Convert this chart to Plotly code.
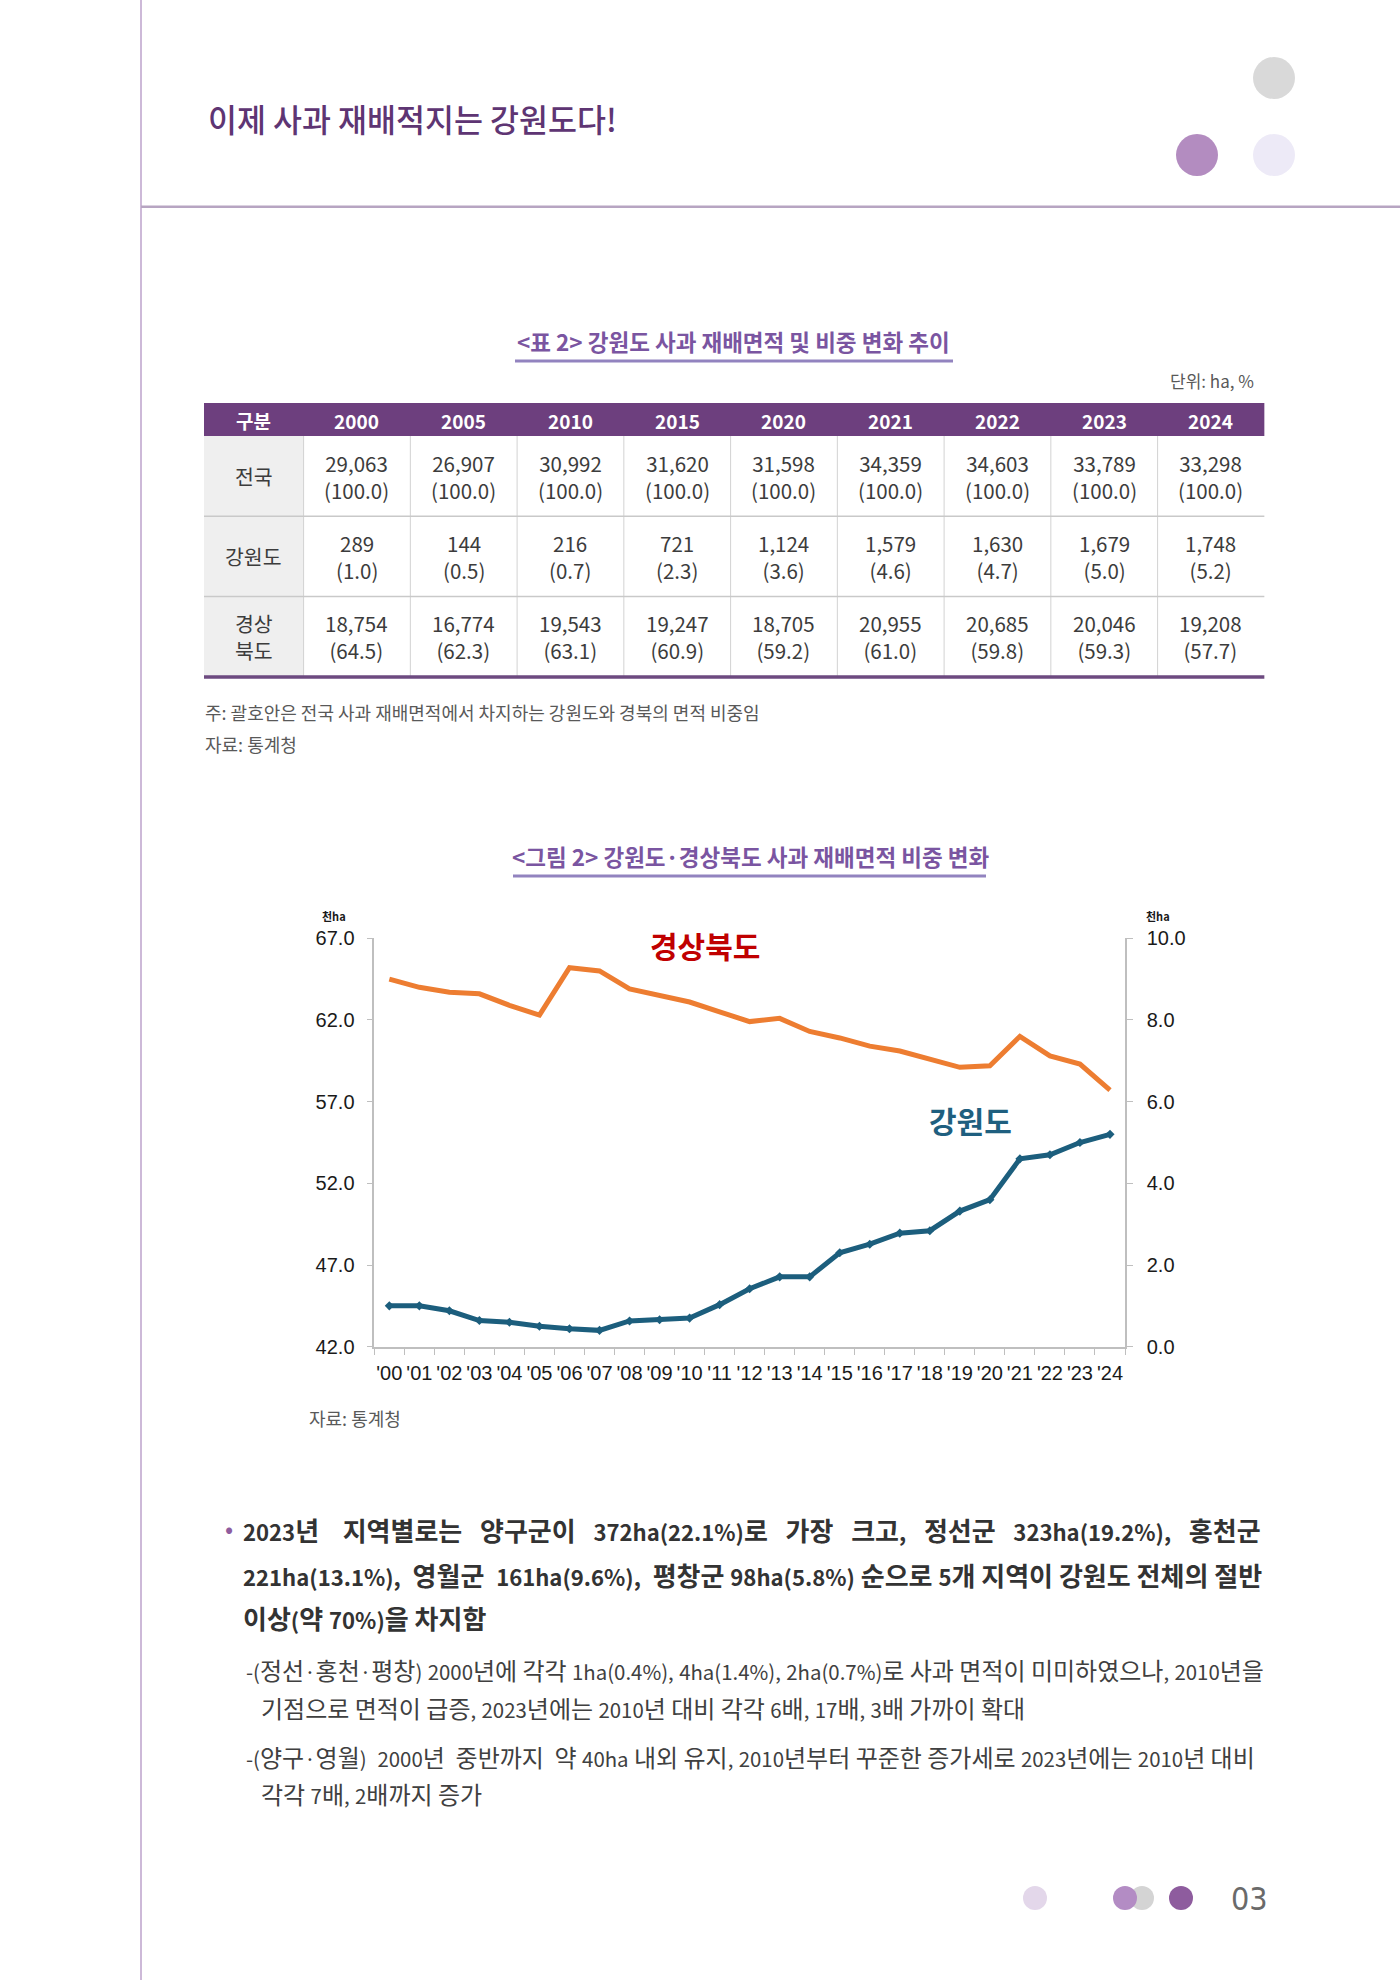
import plotly.graph_objects as go

W = 1400
H = 1980
KR = "Noto Sans CJK KR"
LAT = "Liberation Sans"


def X(px):
    return px / W


def Y(py):
    return 1 - py / H


# ---------------- data ----------------
tbl_years = ["2000", "2005", "2010", "2015", "2020", "2021", "2022", "2023", "2024"]
nat_area = [29063, 26907, 30992, 31620, 31598, 34359, 34603, 33789, 33298]
nat_share = [100.0, 100.0, 100.0, 100.0, 100.0, 100.0, 100.0, 100.0, 100.0]
gw_area = [289, 144, 216, 721, 1124, 1579, 1630, 1679, 1748]
gw_share = [1.0, 0.5, 0.7, 2.3, 3.6, 4.6, 4.7, 5.0, 5.2]
gb_area = [18754, 16774, 19543, 19247, 18705, 20955, 20685, 20046, 19208]
gb_share = [64.5, 62.3, 63.1, 60.9, 59.2, 61.0, 59.8, 59.3, 57.7]
row_labels = ["전국", "강원도", "경상<br>북도"]
header_first = "구분"

chart_years = ["'00", "'01", "'02", "'03", "'04", "'05", "'06", "'07", "'08", "'09",
               "'10", "'11", "'12", "'13", "'14", "'15", "'16", "'17", "'18", "'19",
               "'20", "'21", "'22", "'23", "'24"]
gb_line = [64.5, 64.0, 63.7, 63.6, 62.9, 62.3, 65.2, 65.0, 63.9, 63.5,
           63.1, 62.5, 61.9, 62.1, 61.3, 60.9, 60.4, 60.1, 59.6, 59.1,
           59.2, 61.0, 59.8, 59.3, 57.7]
gw_line = [1.0, 1.0, 0.88, 0.64, 0.60, 0.5, 0.44, 0.40, 0.63, 0.66,
           0.7, 1.03, 1.42, 1.71, 1.71, 2.3, 2.51, 2.78, 2.84, 3.32,
           3.6, 4.6, 4.7, 5.0, 5.2]
left_ticks = [42.0, 47.0, 52.0, 57.0, 62.0, 67.0]
right_ticks = [0.0, 2.0, 4.0, 6.0, 8.0, 10.0]

page_title = "이제 사과 재배적지는 강원도다!"
table_title = "&lt;표 2&gt; 강원도 사과 재배면적 및 비중 변화 추이"
chart_title = "&lt;그림 2&gt; 강원도·경상북도 사과 재배면적 비중 변화"
unit_text = "단위: ha, %"
note_text = "주: 괄호안은 전국 사과 재배면적에서 차지하는 강원도와 경북의 면적 비중임"
source_text = "자료: 통계청"

bold_lines = [
    "2023년 지역별로는 양구군이 372ha(22.1%)로 가장 크고, 정선군 323ha(19.2%), 홍천군",
    "221ha(13.1%), 영월군 161ha(9.6%), 평창군 98ha(5.8%) 순으로 5개 지역이 강원도 전체의 절반",
    "이상(약 70%)을 차지함",
]
sub_lines = [
    ("-(정선·홍천·평창) 2000년에 각각 1ha(0.4%), 4ha(1.4%), 2ha(0.7%)로 사과 면적이 미미하였으나, 2010년을", True, True),
    ("기점으로 면적이 급증, 2023년에는 2010년 대비 각각 6배, 17배, 3배 가까이 확대", False, False),
    ("-(양구·영월) 2000년 중반까지 약 40ha 내외 유지, 2010년부터 꾸준한 증가세로 2023년에는 2010년 대비", True, True),
    ("각각 7배, 2배까지 증가", False, False),
]


def is_hangul(ch):
    return '\uac00' <= ch <= '\ud7a3'


def latin_w(ch, bold):
    if ch.isdigit():
        return 0.62 if bold else 0.58
    if ch in '()':
        return 0.36 if bold else 0.34
    if ch in ',.':
        return 0.3 if bold else 0.28
    if ch == '%':
        return 0.92 if bold else 0.9
    if ch == '·':
        return 0.28
    if ch == '-':
        return 0.36
    if ch in 'ha':
        return 0.61 if bold else 0.57
    return 0.58


def est_width(s, size, factor, bold):
    w = 0.0
    for ch in s:
        if is_hangul(ch):
            w += (0.93 if bold else 0.92) * size
        elif ch == ' ':
            w += 0.224 * size
        else:
            w += latin_w(ch, bold) * size * factor
    return w


def styled(s, size, factor):
    """wrap runs of non-Hangul, non-space characters in a smaller span"""
    out, run = "", ""
    small = size * factor
    for ch in s:
        if is_hangul(ch) or ch in ' \u00a0':
            if run:
                out += f'<span style="font-size:{small:.1f}px">{run}</span>'
                run = ""
            out += ch
        else:
            run += ch
    if run:
        out += f'<span style="font-size:{small:.1f}px">{run}</span>'
    return out


def justify(s, size, factor, target, bold):
    extra = target - est_width(s, size, factor, bold)
    n_sp = s.count(' ')
    if extra <= 0 or n_sp == 0:
        return s
    total = int(round(extra / (0.224 * size)))
    parts = s.split(' ')
    out = parts[0]
    for i, p in enumerate(parts[1:]):
        k = total // n_sp + (1 if i < total % n_sp else 0)
        out += ' ' + '\u00a0' * k + p
    return out


fig = go.Figure()

# ---------------- chart ----------------
C_OR = "#ED7D31"
C_BL = "#1C5E7D"
fig.add_trace(go.Scatter(x=chart_years, y=gb_line, mode="lines",
                         line=dict(color=C_OR, width=5), xaxis="x", yaxis="y",
                         hoverinfo="skip", showlegend=False))
fig.add_trace(go.Scatter(x=chart_years, y=gw_line, mode="lines+markers",
                         line=dict(color=C_BL, width=5),
                         marker=dict(symbol="diamond", size=7, color=C_BL),
                         xaxis="x", yaxis="y2", hoverinfo="skip", showlegend=False))

AX_COL = "#BFBFBF"
tickfont = dict(family=LAT, size=20, color="#1a1a1a")
fig.update_layout(
    template="none",
    autosize=False,
    width=W, height=H,
    margin=dict(l=0, r=0, t=0, b=0, pad=0, autoexpand=False),
    paper_bgcolor="white", plot_bgcolor="rgba(0,0,0,0)",
    showlegend=False,
    xaxis=dict(domain=[X(374.3), X(1125)], type="category",
               categoryorder="array", categoryarray=chart_years,
               range=[-0.5, len(chart_years) - 0.5],
               showline=True, linecolor=AX_COL, linewidth=1.5,
               ticks="outside", tickson="boundaries", ticklen=7, tickcolor=AX_COL,
               tickwidth=1.2, tickfont=tickfont, tickangle=0, ticklabelstandoff=8,
               showgrid=False, zeroline=False, anchor="y", fixedrange=True,
               automargin=False),
    yaxis=dict(domain=[Y(1346.7), Y(938.3)], range=[42, 67], tickvals=left_ticks,
               tickformat=".1f", showline=True, linecolor=AX_COL, linewidth=1.5,
               ticks="outside", ticklen=6, tickcolor=AX_COL, tickwidth=1.2,
               tickfont=tickfont, showgrid=False, zeroline=False, anchor="x",
               ticklabelstandoff=8, fixedrange=True, automargin=False),
    yaxis2=dict(overlaying="y", side="right", range=[0, 10], tickvals=right_ticks,
                tickformat=".1f", showline=True, linecolor=AX_COL, linewidth=1.5,
                ticks="outside", ticklen=6, tickcolor=AX_COL, tickwidth=1.2,
                tickfont=tickfont, showgrid=False, zeroline=False, anchor="x",
                ticklabelstandoff=10, fixedrange=True, automargin=False),
)

shapes = []
ann = []


def text(x, y, s, size, color, family=KR, xanchor="center", yanchor="middle",
         weight="normal"):
    ann.append(dict(x=X(x), y=Y(y), xref="paper", yref="paper", text=s,
                    showarrow=False, xanchor=xanchor, yanchor=yanchor,
                    align="left" if xanchor == "left" else ("right" if xanchor == "right" else "center"),
                    font=dict(family=family, size=size, color=color, weight=weight)))


def line(x0, y0, x1, y1, color, width):
    shapes.append(dict(type="line", xref="paper", yref="paper",
                       x0=X(x0), y0=Y(y0), x1=X(x1), y1=Y(y1),
                       line=dict(color=color, width=width)))


def rect(x0, y0, x1, y1, fill):
    shapes.append(dict(type="rect", xref="paper", yref="paper",
                       x0=X(x0), y0=Y(y0), x1=X(x1), y1=Y(y1),
                       fillcolor=fill, line=dict(width=0), layer="below"))


def circle(cx, cy, r, fill):
    shapes.append(dict(type="circle", xref="paper", yref="paper",
                       x0=X(cx - r), y0=Y(cy + r), x1=X(cx + r), y1=Y(cy - r),
                       fillcolor=fill, line=dict(width=0), layer="above"))


# ---------------- page frame ----------------
line(141, 0, 141, H, "#CDB9D8", 2)
line(141, 206.7, W, 206.7, "#B7A5C2", 2.5)
text(206, 118, page_title, 31.5, "#5E3573", xanchor="left", weight=500)
circle(1274, 78, 21, "#D9D9D9")
circle(1197, 155, 21, "#B38CC0")
circle(1274, 155, 21, "#EDEAF7")

# ---------------- table ----------------
text(734, 341, table_title, 22.5, "#7A55A1", weight="bold")
line(515, 361, 953, 361, "#9283BF", 3)
text(1256, 380, unit_text, 17, "#595959", xanchor="right")

TBL_L = 204
FIRST_W = 99.6
COL_W = 106.75
HEAD_T = 403
HEAD_H = 33
ROW_H = 80.3
n_cols = len(tbl_years)
TBL_R = TBL_L + FIRST_W + COL_W * n_cols
rows_vals = [(nat_area, nat_share), (gw_area, gw_share), (gb_area, gb_share)]
body_t = HEAD_T + HEAD_H
body_b = body_t + ROW_H * len(rows_vals)

rect(TBL_L, HEAD_T, TBL_R, body_t, "#6D3F7E")
rect(TBL_L, body_t, TBL_L + FIRST_W, body_b, "#EFEFEF")
for j in range(n_cols):
    xl = TBL_L + FIRST_W + COL_W * j
    line(xl, body_t, xl, body_b, "#D2D2D2", 1)
for i in range(1, len(rows_vals)):
    yl = body_t + ROW_H * i
    line(TBL_L, yl, TBL_R, yl, "#C9C9C9", 1.5)
line(TBL_L, body_b, TBL_R, body_b, "#6D4A80", 3.5)

text(TBL_L + FIRST_W / 2, HEAD_T + HEAD_H / 2 + 1, header_first, 19, "white", weight="bold")
for j, yr in enumerate(tbl_years):
    cx = TBL_L + FIRST_W + COL_W * (j + 0.5)
    text(cx, HEAD_T + HEAD_H / 2 + 1, yr, 19, "white", weight="bold")

for i, (areas, shares) in enumerate(rows_vals):
    cy = body_t + ROW_H * (i + 0.5)
    text(TBL_L + FIRST_W / 2, cy, row_labels[i], 20.5, "#3C3C3C")
    for j in range(n_cols):
        cx = TBL_L + FIRST_W + COL_W * (j + 0.5)
        text(cx, cy, f"{areas[j]:,}<br>({shares[j]:.1f})", 20.5, "#3C3C3C")

text(203, 712, note_text, 18, "#595959", xanchor="left")
text(203, 744, source_text, 18, "#595959", xanchor="left")

# ---------------- chart texts ----------------
text(750, 856, chart_title, 22.5, "#7A55A1", weight="bold")
line(513, 876, 986, 876, "#9283BF", 3)
text(334, 916, "천ha", 11, "#1a1a1a", weight="bold")
text(1158, 916, "천ha", 11, "#1a1a1a", weight="bold")
text(705, 945, "경상북도", 30, "#C00000", weight="bold")
text(970, 1120, "강원도", 30, "#1F5F7F", weight="bold")
text(307, 1418, source_text, 18, "#595959", xanchor="left")

# ---------------- body text ----------------
BODY_L = 241
BODY_R = 1264
B_SIZE, B_F = 26, 0.85
S_SIZE, S_F = 24, 0.85
text(229, 1527, "•", 24, "#8E5C9E")
bold_y = [1529, 1574, 1617]
for k, s in enumerate(bold_lines):
    s2 = justify(s, B_SIZE, B_F, BODY_R - BODY_L, True) if k < 2 else s
    text(BODY_L, bold_y[k], styled(s2, B_SIZE, B_F), B_SIZE, "#333333",
         xanchor="left", weight="bold")

sub_y = [1669, 1707, 1756, 1793]
for k, (s, has_dash, just) in enumerate(sub_lines):
    x0 = 244 if has_dash else 259
    s2 = justify(s, S_SIZE, S_F, BODY_R - x0 - 10, False) if just else s
    text(x0, sub_y[k], styled(s2, S_SIZE, S_F), S_SIZE, "#404040", xanchor="left")

# ---------------- footer ----------------
circle(1035, 1898, 12, "#E3D7EA")
circle(1142, 1898, 12, "#D4D4D4")
circle(1125, 1898, 12, "#B38CC4")
circle(1181, 1898, 12, "#8E5C9E")
text(1249, 1899, "03", 32, "#6A6A6A", family="Liberation Sans Narrow, DejaVu Sans Condensed")

fig.update_layout(shapes=shapes, annotations=ann)
fig.write_html("out.html", config={"responsive": False, "displayModeBar": False})
